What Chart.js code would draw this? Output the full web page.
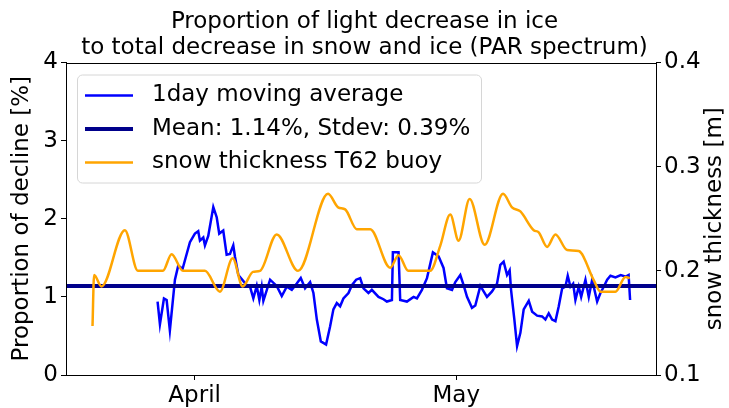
<!DOCTYPE html>
<html>
<head>
<meta charset="utf-8">
<script src="https://cdn.jsdelivr.net/npm/chart.js@4.4.0/dist/chart.umd.min.js"></script>
<style>
  body { margin: 0; background: #fff; }
</style>
</head>
<body>
<canvas id="chart" width="729" height="408"></canvas>
<script>
// x values are days counted from 1 April (negative = March)
const monthTicks = [0, 30];
const monthLabels = ['April', 'May'];
const xMin = -14.75;
const xMax = 52.9;

// 1day moving average of the decline proportion [%]
const dailyDays = [
  -4.25, -3.98, -3.52, -3.21, -2.84, -2.26, -1.88, -1.38, -0.54, 0.03,
  0.41, 0.61, 0.99, 1.18, 1.56, 2.14, 2.53, 2.82, 3.28, 3.67,
  4.05, 4.43, 4.63, 5.01, 5.97, 6.35, 6.73, 7.12, 7.42, 7.69,
  7.88, 8.65, 9.41, 9.99, 10.56, 11.14, 11.71, 12.17, 12.66, 13.24,
  13.62, 14.01, 14.47, 15.07, 15.53, 15.91, 16.30, 16.68, 17.06, 17.64,
  18.03, 18.52, 18.98, 19.36, 19.93, 20.32, 21.08, 21.65, 22.04, 22.62,
  22.73, 23.38, 23.57, 24.34, 25.10, 25.49, 26.06, 26.64, 27.32, 27.97,
  28.54, 28.93, 29.51, 29.89, 30.46, 30.84, 31.23, 31.80, 32.18, 32.76,
  33.52, 34.10, 34.67, 35.05, 35.43, 35.82, 36.12, 36.28, 36.66, 36.97,
  37.35, 37.73, 38.31, 38.70, 39.27, 39.84, 40.22, 40.60, 40.99, 41.37,
  41.75, 42.14, 42.51, 42.78, 43.09, 43.40, 43.66, 44.04, 44.32, 44.81,
  45.19, 45.58, 45.84, 46.15, 46.53, 46.91, 47.30, 47.68, 48.25, 48.86,
  49.43, 49.76, 49.93
];
const dailyValues = [
  0.94, 0.65, 0.98, 0.96, 0.57, 1.22, 1.40, 1.36, 1.70, 1.81,
  1.84, 1.72, 1.76, 1.66, 1.78, 2.15, 2.02, 1.81, 1.85, 1.54,
  1.55, 1.66, 1.51, 1.28, 1.15, 1.13, 0.98, 1.14, 0.96, 1.13,
  0.95, 1.22, 1.14, 1.01, 1.13, 1.09, 1.17, 1.24, 1.11, 1.19,
  1.05, 0.71, 0.43, 0.39, 0.62, 0.84, 0.92, 0.88, 0.98, 1.05,
  1.15, 1.22, 1.24, 1.11, 1.05, 1.09, 1.00, 0.97, 0.94, 0.96,
  1.57, 1.57, 0.96, 0.94, 1.00, 0.98, 1.09, 1.24, 1.57, 1.52,
  1.37, 1.11, 1.09, 1.19, 1.28, 1.15, 1.00, 0.86, 0.89, 1.14,
  1.00, 1.07, 1.17, 1.41, 1.45, 1.28, 1.34, 1.09, 0.71, 0.37,
  0.54, 0.84, 0.95, 0.81, 0.76, 0.75, 0.71, 0.79, 0.71, 0.69,
  0.88, 1.11, 1.13, 1.27, 1.13, 1.17, 0.96, 1.13, 1.00, 1.22,
  1.00, 1.22, 1.09, 0.94, 1.05, 1.13, 1.22, 1.27, 1.25, 1.28,
  1.26, 1.28, 0.96
];

const meanValue = 1.14;
const meanLabel = 'Mean: 1.14%, Stdev: 0.39%';

// snow thickness T62 buoy [m]
const snowDays = [
  -11.71, -11.53, -10.68, -8.00, -6.51, -3.64, -2.64, -1.34, 1.18, 2.90,
  4.36, 5.51, 6.69, 7.50, 9.41, 11.86, 15.30, 16.45, 17.26, 18.60,
  20.13, 22.42, 23.38, 24.49, 27.01, 28.16, 29.31, 30.26, 31.53, 33.25,
  35.36, 36.39, 37.35, 38.88, 39.45, 40.41, 41.37, 42.71, 44.04, 45.76,
  46.53, 48.25, 49.40, 49.90
];
const snowValues = [
  0.147, 0.196, 0.185, 0.239, 0.200, 0.200, 0.216, 0.200, 0.200, 0.180,
  0.212, 0.185, 0.199, 0.200, 0.235, 0.200, 0.274, 0.261, 0.259, 0.240,
  0.240, 0.203, 0.215, 0.200, 0.200, 0.224, 0.254, 0.229, 0.269, 0.225,
  0.274, 0.261, 0.257, 0.239, 0.237, 0.223, 0.235, 0.220, 0.219, 0.191,
  0.180, 0.180, 0.194, 0.193
];

const FONT = 'DejaVu Sans';
const FONT_SIZE = 23;

// black box round the plot area, like matplotlib spines
const framePlugin = {
  id: 'frame',
  afterDatasetsDraw(chart) {
    const { ctx, chartArea: a } = chart;
    ctx.save();
    ctx.strokeStyle = '#000';
    ctx.lineWidth = 1;
    ctx.strokeRect(Math.round(a.left) + 0.5, Math.round(a.top) + 0.5,
      Math.round(a.right - a.left), Math.round(a.bottom - a.top));
    ctx.restore();
  }
};

// right axis label, reading bottom to top
const rightTitlePlugin = {
  id: 'rightTitle',
  afterDraw(chart) {
    const { ctx, chartArea: a } = chart;
    ctx.save();
    ctx.translate(715, (a.top + a.bottom) / 2);
    ctx.rotate(-Math.PI / 2);
    ctx.font = `${FONT_SIZE}px "${FONT}"`;
    ctx.fillStyle = '#000';
    ctx.textAlign = 'center';
    ctx.textBaseline = 'middle';
    ctx.fillText('snow thickness [m]', 0, 0);
    ctx.restore();
  }
};

// legend drawn inside the plot, upper left
const insideLegend = {
  id: 'insideLegend',
  afterDraw(chart) {
    const ctx = chart.ctx;
    const a = chart.chartArea;
    const x = a.left + 11, y = a.top + 12, w = 404, h = 108, r = 5;
    ctx.save();
    ctx.beginPath();
    ctx.roundRect(x + 0.5, y + 0.5, w, h, r);
    ctx.fillStyle = 'rgba(255,255,255,0.8)';
    ctx.fill();
    ctx.strokeStyle = '#d6d6d6';
    ctx.lineWidth = 1;
    ctx.stroke();
    ctx.font = `${FONT_SIZE}px "${FONT}"`;
    ctx.textBaseline = 'middle';
    chart.data.datasets.forEach((ds, i) => {
      const cy = y + 21 + i * 33.5;
      ctx.beginPath();
      ctx.moveTo(x + 8, cy);
      ctx.lineTo(x + 56, cy);
      ctx.strokeStyle = ds.borderColor;
      ctx.lineWidth = ds.borderWidth;
      ctx.stroke();
      ctx.fillStyle = '#000';
      ctx.fillText(ds.label, x + 75, cy);
    });
    ctx.restore();
  }
};

const tickFont = { family: FONT, size: FONT_SIZE };

new Chart(document.getElementById('chart'), {
  type: 'line',
  data: {
    datasets: [
      {
        label: '1day moving average',
        data: dailyDays.map((d, i) => ({ x: d, y: dailyValues[i] })),
        borderColor: '#0000ff',
        borderWidth: 2.5,
        pointRadius: 0,
        tension: 0,
        yAxisID: 'y',
        order: 3
      },
      {
        label: meanLabel,
        data: [{ x: xMin, y: meanValue }, { x: xMax, y: meanValue }],
        borderColor: '#00008b',
        borderWidth: 4,
        pointRadius: 0,
        yAxisID: 'y',
        order: 2
      },
      {
        label: 'snow thickness T62 buoy',
        data: snowDays.map((d, i) => ({ x: d, y: snowValues[i] })),
        borderColor: '#ffa500',
        borderWidth: 2.5,
        pointRadius: 0,
        cubicInterpolationMode: 'monotone',
        yAxisID: 'y1',
        order: 1
      }
    ]
  },
  options: {
    responsive: false,
    animation: false,
    devicePixelRatio: 1,
    layout: { padding: 0 },
    plugins: {
      legend: { display: false },
      tooltip: { enabled: false },
      title: {
        display: true,
        text: ['Proportion of light decrease in ice',
               'to total decrease in snow and ice (PAR spectrum)'],
        color: '#000',
        font: { family: FONT, size: 23, weight: 'normal', lineHeight: 1.12 },
        padding: { top: 9, bottom: 2 }
      }
    },
    scales: {
      x: {
        type: 'linear',
        min: xMin,
        max: xMax,
        afterBuildTicks: (axis) => { axis.ticks = monthTicks.map(v => ({ value: v })); },
        afterFit: (scale) => { scale.height = 33; },
        ticks: {
          autoSkip: false,
          maxRotation: 0,
          color: '#000',
          font: tickFont,
          padding: 2,
          callback: (v) => monthLabels[monthTicks.indexOf(v)]
        },
        grid: { drawOnChartArea: false, tickLength: 5, color: '#000' },
        border: { color: '#000' }
      },
      y: {
        position: 'left',
        min: 0,
        max: 4,
        afterFit: (scale) => { scale.width = 66; },
        ticks: { stepSize: 1, color: '#000', font: tickFont, padding: 3 },
        grid: { drawOnChartArea: false, tickLength: 5, color: '#000' },
        border: { color: '#000' },
        title: {
          display: true,
          text: 'Proportion of decline [%]',
          color: '#000',
          font: tickFont,
          padding: { top: 8, bottom: 0 }
        }
      },
      y1: {
        position: 'right',
        min: 0.1,
        max: 0.4,
        afterFit: (scale) => { scale.width = 73; },
        ticks: {
          stepSize: 0.1,
          color: '#000',
          font: tickFont,
          padding: 3,
          callback: (v) => v.toFixed(1)
        },
        grid: { drawOnChartArea: false, tickLength: 5, color: '#000' },
        border: { color: '#000' }
      }
    }
  },
  plugins: [framePlugin, rightTitlePlugin, insideLegend]
});
</script>
</body>
</html>
